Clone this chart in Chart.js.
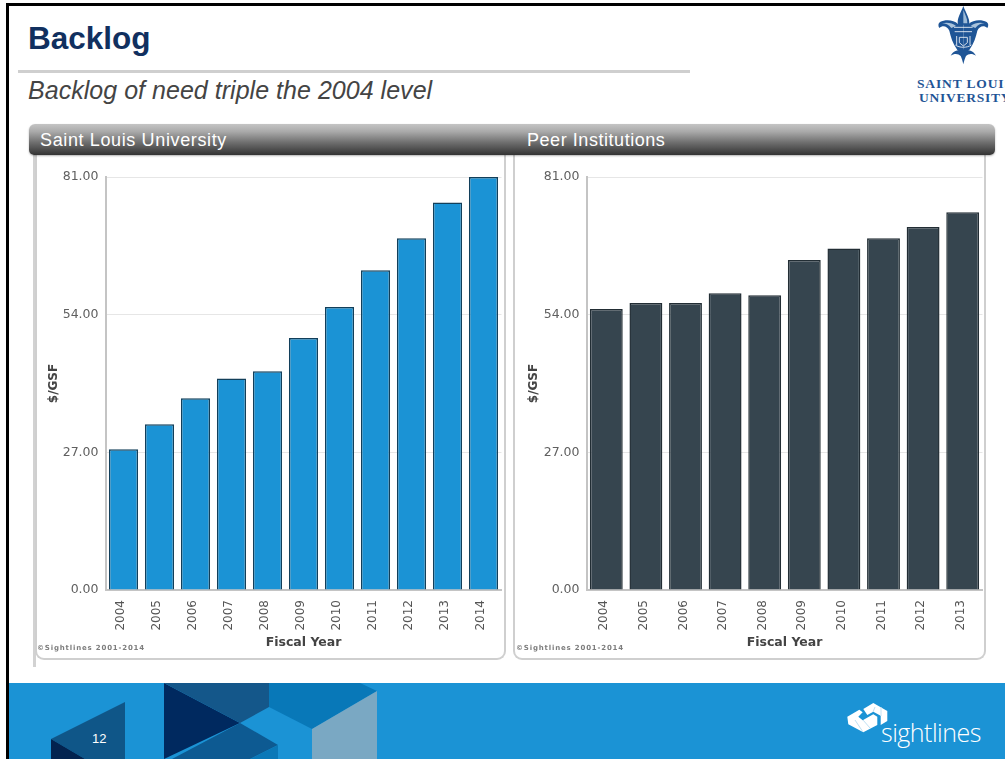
<!DOCTYPE html>
<html>
<head>
<meta charset="utf-8">
<script src="https://cdn.jsdelivr.net/npm/chart.js@4"></script>
<style>
html,body{margin:0;padding:0;background:#fff;}
body{width:1005px;height:759px;overflow:hidden;position:relative;font-family:"Liberation Sans",Arial,sans-serif;}
.abs{position:absolute;}
.t{position:absolute;white-space:nowrap;line-height:1;}
.panel{position:absolute;background:#fff;border:2px solid #cfcfcf;border-top:none;border-radius:0 0 9px 9px;box-sizing:border-box;}
.copy{position:absolute;white-space:nowrap;font:bold 7px "DejaVu Sans",sans-serif;letter-spacing:.82px;color:#7d7d7d;line-height:1;}
canvas{position:absolute;}
</style>
</head>
<body>
<div class="abs" style="left:6px;top:3px;width:999px;height:3px;background:#000"></div>
<div class="abs" style="left:6px;top:3px;width:3px;height:756px;background:#000"></div>

<div class="t" style="left:28px;top:23px;font-size:31.5px;font-weight:bold;color:#11305f">Backlog</div>
<div class="abs" style="left:18px;top:70px;width:672px;height:3px;background:#cfcfcf"></div>
<div class="t" style="left:28px;top:78px;font-size:25px;font-style:italic;letter-spacing:.03px;color:#444">Backlog of need triple the 2004 level</div>

<svg class="abs" style="left:930px;top:0" width="70" height="70" viewBox="0 0 210 210">
  <g fill="#1f5596">
    <path d="M100 18 C108 40 120 55 118 74 L84 74 C80 55 92 40 100 18Z"/>
    <path d="M84 72 C70 58 45 58 30 66 C24 70 24 78 28 84 C38 74 52 78 58 92 C62 110 68 130 82 150 L100 152 L100 72Z"/>
    <path d="M116 72 C130 58 155 58 170 66 C176 70 176 78 172 84 C162 74 148 78 142 92 C138 110 132 130 118 150 L100 152 L100 72Z"/>
    <path d="M100 148 C85 150 70 152 62 167 C72 160 85 160 92 168 C95 175 98 183 100 193 C102 183 105 175 108 168 C115 160 128 160 138 167 C130 152 115 150 100 148Z"/>
  </g>
  <path d="M100 30 C106 45 112 55 112 70 L100 70Z" fill="#9dbbd8"/>
  <g fill="#a9c3dc">
    <path d="M36 70 C50 66 66 68 78 78 L64 84 C56 74 46 70 36 70Z"/>
    <path d="M164 70 C150 66 134 68 122 78 L136 84 C144 74 154 70 164 70Z"/>
  </g>
  <g fill="none" stroke="#fff" stroke-width="3" opacity=".8">
    <path d="M72 82 H128"/>
    <path d="M74 95 H126"/>
    <path d="M80 108 V135 M120 108 V135"/>
    <path d="M88 112 H112 V128 L100 138 L88 128Z"/>
    <path d="M76 135 C88 144 112 144 124 135"/>
  </g>
</svg>
<div class="t" style="left:917px;top:76px;font:bold 13.5px 'Liberation Serif',serif;letter-spacing:.85px;color:#1f5596">SAINT LOUIS</div>
<div class="t" style="left:919px;top:90px;font:bold 13.5px 'Liberation Serif',serif;letter-spacing:.75px;color:#1f5596">UNIVERSITY</div>

<div class="abs" style="left:33px;top:150px;width:3px;height:517px;background:#d2d2d2"></div>
<div class="panel" style="left:35px;top:150px;width:471px;height:510px"></div>
<div class="panel" style="left:513px;top:150px;width:473px;height:510px"></div>

<div class="abs" style="left:29px;top:124px;width:966px;height:31px;border-radius:6px 6px 5px 5px;background:linear-gradient(#c4c4c4 0%,#a9a9a9 25%,#6e6e6e 60%,#333 100%);box-shadow:0 1px 2px rgba(0,0,0,.3)"></div>
<div class="t" style="left:40px;top:131px;font-size:18px;letter-spacing:.63px;color:#fff">Saint Louis University</div>
<div class="t" style="left:527px;top:131px;font-size:18px;letter-spacing:.55px;color:#fff">Peer Institutions</div>

<canvas id="chartA" style="left:36px;top:156px;width:468px;height:502px" width="468" height="502"></canvas>
<canvas id="chartB" style="left:515px;top:156px;width:469px;height:502px" width="469" height="502"></canvas>

<div class="copy" style="left:37px;top:645px">©Sightlines 2001-2014</div>
<div class="copy" style="left:516px;top:645px">©Sightlines 2001-2014</div>

<svg class="abs" style="left:0;top:683px" width="1005" height="76" viewBox="0 683 1005 76">
  <rect x="9" y="683" width="996" height="76" fill="#1b93d5"/>
  <polygon points="51,739 125,702 125,759 85,759" fill="#0f5688"/>
  <polygon points="51,739 85,759 51,759" fill="#03234f"/>
  <polygon points="164,683 240,723 164,759" fill="#00295f"/>
  <polygon points="164,683 269,683 269,707 240,723" fill="#14578a"/>
  <polygon points="240,723 278,745 250,759 172,759" fill="#0d5a92"/>
  <polygon points="250,759 278,745 278,759" fill="#0a78b8"/>
  <polygon points="269,683 360,683 377,691 312,729 269,707" fill="#0878b8"/>
  <polygon points="377,691 377,759 312,759 312,729" fill="#7aa8c3"/>
  <polygon points="847.3,716.7 859.3,709.7 862.7,712.3 858.3,716.7 862.7,720.3 873.3,714.3 877.3,716.7 877.3,725 863.3,732.3 848.3,724.3" fill="#fff"/>
  <polygon points="863.3,709 873.3,703 887.3,711 887.3,721 880.7,725 880.7,715.7 873.3,711.7 867.3,715" fill="#fff"/>
  <g fill="none" stroke="#bfe0f3" stroke-width="1">
    <path d="M855 720 L863 732 M870 728 L863 720 M875 707 L873 712 M881 707 L881 716"/>
  </g>
</svg>
<div class="t" style="left:92px;top:732px;font-size:13px;color:#fff">12</div>
<div class="t" style="left:881px;top:715px;font:300 25px 'Open Sans',sans-serif;letter-spacing:-.5px;color:#fff">sightlines</div>

<script>
var yearsA = ["2004","2005","2006","2007","2008","2009","2010","2011","2012","2013","2014"];
var valuesA = [27.6,32.5,37.6,41.5,42.9,49.4,55.5,62.7,69.0,76.0,81.0];
var yearsB = ["2004","2005","2006","2007","2008","2009","2010","2011","2012","2013"];
var valuesB = [55.1,56.3,56.3,58.2,57.8,64.7,67.0,69.0,71.2,74.1];
var yTicks = [0,27,54,81];
var yTitle = "$/GSF";
var xTitle = "Fiscal Year";

var font = '"DejaVu Sans", sans-serif';
function makeChart(id, labels, values, fill, edge, barPct, plotLeft, rightPad, titlePad, labelShift) {
  return new Chart(document.getElementById(id), {
    type: 'bar',
    data: { labels: labels, datasets: [{ data: values, backgroundColor: fill, borderColor: edge, borderWidth: 1.5, categoryPercentage: 1, barPercentage: barPct }] },
    options: {
      responsive: false, animation: false,
      layout: { padding: { top: 21, right: rightPad, bottom: 6, left: titlePad } },
      plugins: { legend: { display: false }, tooltip: { enabled: false } },
      scales: {
        x: {
          offset: true,
          grid: { display: false },
          border: { display: true, color: '#c4c4c4', width: 2 },
          ticks: { minRotation: 90, maxRotation: 90, autoSkip: false, padding: 2, labelOffset: labelShift, color: '#555', font: { family: font, size: 12 } },
          title: { display: true, text: xTitle, color: '#444', font: { family: font, size: 12.5, weight: 'bold' }, padding: { top: 1, bottom: 2 } },
          afterFit: function (s) { s.height = 62; }
        },
        y: {
          min: 0, max: 81,
          afterBuildTicks: function (s) { s.ticks = yTicks.map(function (v) { return { value: v }; }); },
          grid: { color: '#e6e6e6', drawTicks: false },
          border: { display: true, color: '#c4c4c4', width: 2 },
          ticks: { padding: 7, color: '#606060', font: { family: font, size: 12.5 }, callback: function (v) { return Number(v).toFixed(2); } },
          title: { display: true, text: yTitle, color: '#444', font: { family: font, size: 12, weight: 'bold' }, padding: { top: 0, bottom: 0 } },
          afterFit: function (s) { s.width = plotLeft - titlePad; }
        }
      }
    }
  });
}
makeChart('chartA', yearsA, valuesA, '#1b93d5', '#123f5a', 0.81, 69.5, 2.5, 11, -3);
makeChart('chartB', yearsB, valuesB, '#36454f', '#222d34', 0.83, 71.5, 1.5, 12, -2);
</script>
</body>
</html>
